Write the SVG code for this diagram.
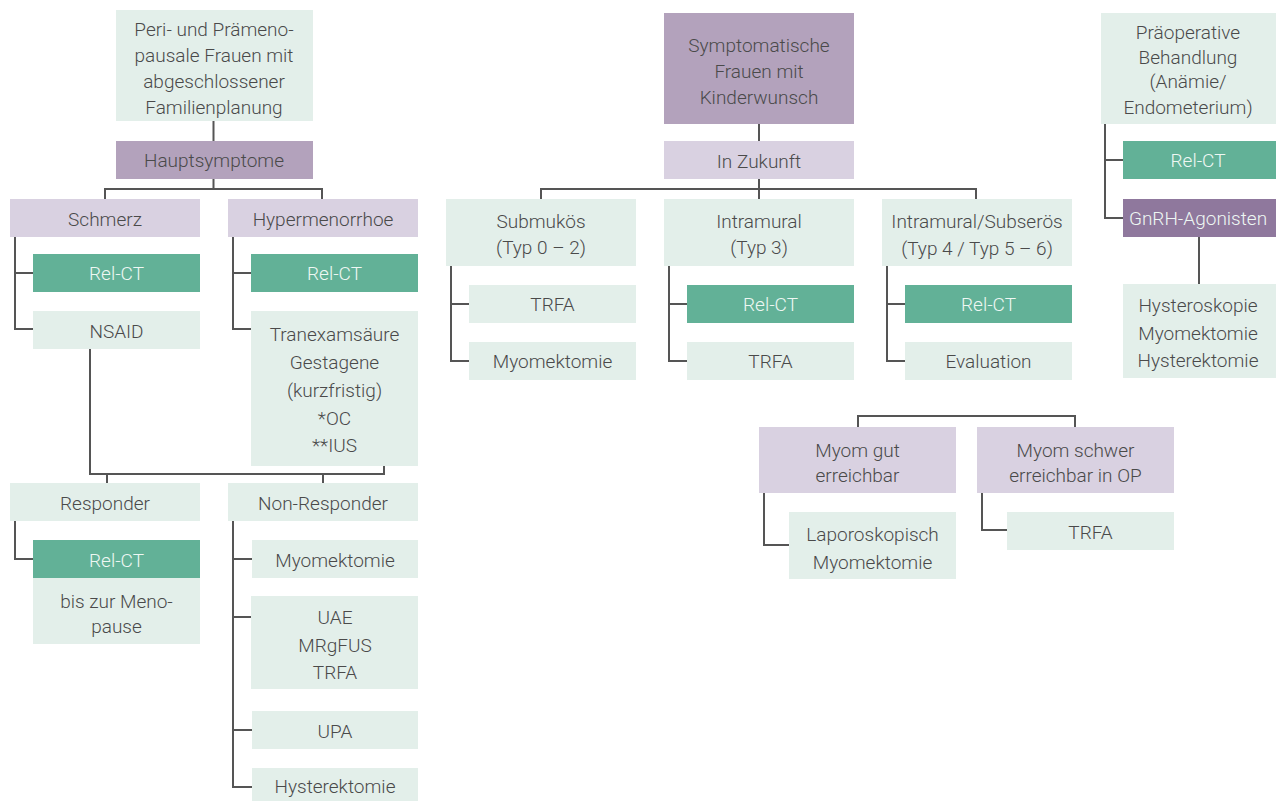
<svg xmlns="http://www.w3.org/2000/svg" width="1276" height="801" viewBox="0 0 1276 801">
<style>
.lg{fill:#E3EFEA}
.tl{fill:#62B197}
.lp{fill:#D9D1E1}
.mp{fill:#B3A2BC}
.dp{fill:#8F789D}
text{font-family:Roboto,"Liberation Sans",sans-serif;font-weight:300;font-size:19px;fill:#4A4A4A;text-anchor:middle}
text.w{fill:#EEF7F3}
#connectors path{fill:none;stroke:#555;stroke-width:2}
</style>
<rect width="1276" height="801" fill="#fff"/>
<g id="connectors">
<path d="M213.5,121V141"/>
<path d="M213.5,179V189"/>
<path d="M105,199V189H322V199"/>
<path d="M15,237V329H33M15,273H33"/>
<path d="M233,237V329H251M233,273H251"/>
<path d="M90,349V474H384V466M107,474V483M323,474V483"/>
<path d="M15,521V559H33"/>
<path d="M233,521V787H252M233,559H252M233,617H251M233,730H252"/>
<path d="M759,124V141M759,179V199"/>
<path d="M541,199V189H976V199"/>
<path d="M451,266V361H469M451,304H469"/>
<path d="M669,266V361H687M669,304H687"/>
<path d="M887,266V361H905M887,304H905"/>
<path d="M858,427V416H1075V427"/>
<path d="M764,493V545H789"/>
<path d="M982,493V530H1007"/>
<path d="M1105,124V218H1123M1105,160H1123"/>
<path d="M1199,237V284"/>
</g>
<g id="n_peri"><rect class="lg" x="116" y="10" width="197" height="111"/>
<text x="214" y="36">Peri- und Prämeno-</text><text x="214" y="62">pausale Frauen mit</text><text x="214" y="88">abgeschlossener</text><text x="214" y="114">Familienplanung</text></g>
<g id="n_haupt"><rect class="mp" x="116" y="141" width="197" height="38"/><text x="214" y="167">Hauptsymptome</text></g>
<g id="n_schmerz"><rect class="lp" x="10" y="199" width="190" height="38"/><text x="105" y="226">Schmerz</text></g>
<g id="n_hyper"><rect class="lp" x="228" y="199" width="190" height="38"/><text x="323" y="226">Hypermenorrhoe</text></g>
<g id="n_relct1"><rect class="tl" x="33" y="254" width="167" height="38"/><text class="w" x="116.5" y="280">Rel-CT</text></g>
<g id="n_nsaid"><rect class="lg" x="33" y="311" width="167" height="38"/><text x="116.5" y="338">NSAID</text></g>
<g id="n_relct2"><rect class="tl" x="251" y="254" width="167" height="38"/><text class="w" x="334.5" y="280">Rel-CT</text></g>
<g id="n_tranex"><rect class="lg" x="251" y="311" width="167" height="155"/>
<text x="334.5" y="341">Tranexamsäure</text><text x="334.5" y="369">Gestagene</text><text x="334.5" y="397">(kurzfristig)</text><text x="334.5" y="425">*OC</text><text x="334.5" y="452">**IUS</text></g>
<g id="n_resp"><rect class="lg" x="10" y="483" width="190" height="38"/><text x="105" y="510">Responder</text></g>
<g id="n_nonresp"><rect class="lg" x="228" y="483" width="190" height="38"/><text x="323" y="510">Non-Responder</text></g>
<g id="n_relct3"><rect class="tl" x="33" y="540" width="167" height="38"/><text class="w" x="116.5" y="567">Rel-CT</text></g>
<g id="n_meno"><rect class="lg" x="33" y="578" width="167" height="66"/><text x="116.5" y="608">bis zur Meno-</text><text x="116.5" y="633">pause</text></g>
<g id="n_myom1"><rect class="lg" x="252" y="540" width="166" height="38"/><text x="335" y="567">Myomektomie</text></g>
<g id="n_uae"><rect class="lg" x="251" y="596" width="167" height="93"/><text x="335" y="624">UAE</text><text x="335" y="652">MRgFUS</text><text x="335" y="679">TRFA</text></g>
<g id="n_upa"><rect class="lg" x="252" y="711" width="166" height="38"/><text x="335" y="738">UPA</text></g>
<g id="n_hyster"><rect class="lg" x="252" y="768" width="166" height="38"/><text x="335" y="793">Hysterektomie</text></g>
<g id="n_sympt"><rect class="mp" x="664" y="13" width="190" height="111"/><text x="759" y="52">Symptomatische</text><text x="759" y="78">Frauen mit</text><text x="759" y="104">Kinderwunsch</text></g>
<g id="n_zukunft"><rect class="lp" x="664" y="141" width="190" height="38"/><text x="759" y="168">In Zukunft</text></g>
<g id="n_submuk"><rect class="lg" x="446" y="199" width="190" height="67"/><text x="541" y="228">Submukös</text><text x="541" y="254">(Typ 0 – 2)</text></g>
<g id="n_intram"><rect class="lg" x="664" y="199" width="190" height="67"/><text x="759" y="228">Intramural</text><text x="759" y="254">(Typ 3)</text></g>
<g id="n_subser"><rect class="lg" x="882" y="199" width="190" height="67"/><text x="977" y="228">Intramural/Subserös</text><text x="977" y="255">(Typ 4 / Typ 5 – 6)</text></g>
<g id="n_trfa1"><rect class="lg" x="469" y="285" width="167" height="38"/><text x="552.5" y="311">TRFA</text></g>
<g id="n_myom2"><rect class="lg" x="469" y="342" width="167" height="38"/><text x="552.5" y="368">Myomektomie</text></g>
<g id="n_relct4"><rect class="tl" x="687" y="285" width="167" height="38"/><text class="w" x="770.5" y="311">Rel-CT</text></g>
<g id="n_trfa2"><rect class="lg" x="687" y="342" width="167" height="38"/><text x="770.5" y="368">TRFA</text></g>
<g id="n_relct5"><rect class="tl" x="905" y="285" width="167" height="38"/><text class="w" x="988.5" y="311">Rel-CT</text></g>
<g id="n_eval"><rect class="lg" x="905" y="342" width="167" height="38"/><text x="988.5" y="368">Evaluation</text></g>
<g id="n_gut"><rect class="lp" x="759" y="427" width="197" height="66"/><text x="857.5" y="457">Myom gut</text><text x="857.5" y="482">erreichbar</text></g>
<g id="n_schwer"><rect class="lp" x="977" y="427" width="197" height="66"/><text x="1075.5" y="457">Myom schwer</text><text x="1075.5" y="482">erreichbar in OP</text></g>
<g id="n_lapo"><rect class="lg" x="789" y="512" width="167" height="67"/><text x="872.5" y="541">Laporoskopisch</text><text x="872.5" y="569">Myomektomie</text></g>
<g id="n_trfa3"><rect class="lg" x="1007" y="512" width="167" height="38"/><text x="1090.5" y="539">TRFA</text></g>
<g id="n_praeop"><rect class="lg" x="1101" y="13" width="175" height="111"/><text x="1188" y="39">Präoperative</text><text x="1188" y="64">Behandlung</text><text x="1188" y="88">(Anämie/</text><text x="1188" y="114">Endometerium)</text></g>
<g id="n_relct6"><rect class="tl" x="1123" y="141" width="153" height="38"/><text class="w" x="1198" y="167">Rel-CT</text></g>
<g id="n_gnrh"><rect class="dp" x="1123" y="199" width="153" height="38"/><text class="w" x="1198" y="225">GnRH-Agonisten</text></g>
<g id="n_hyst3"><rect class="lg" x="1123" y="284" width="153" height="94"/><text x="1198" y="312">Hysteroskopie</text><text x="1198" y="340">Myomektomie</text><text x="1198" y="367">Hysterektomie</text></g>
</svg>
